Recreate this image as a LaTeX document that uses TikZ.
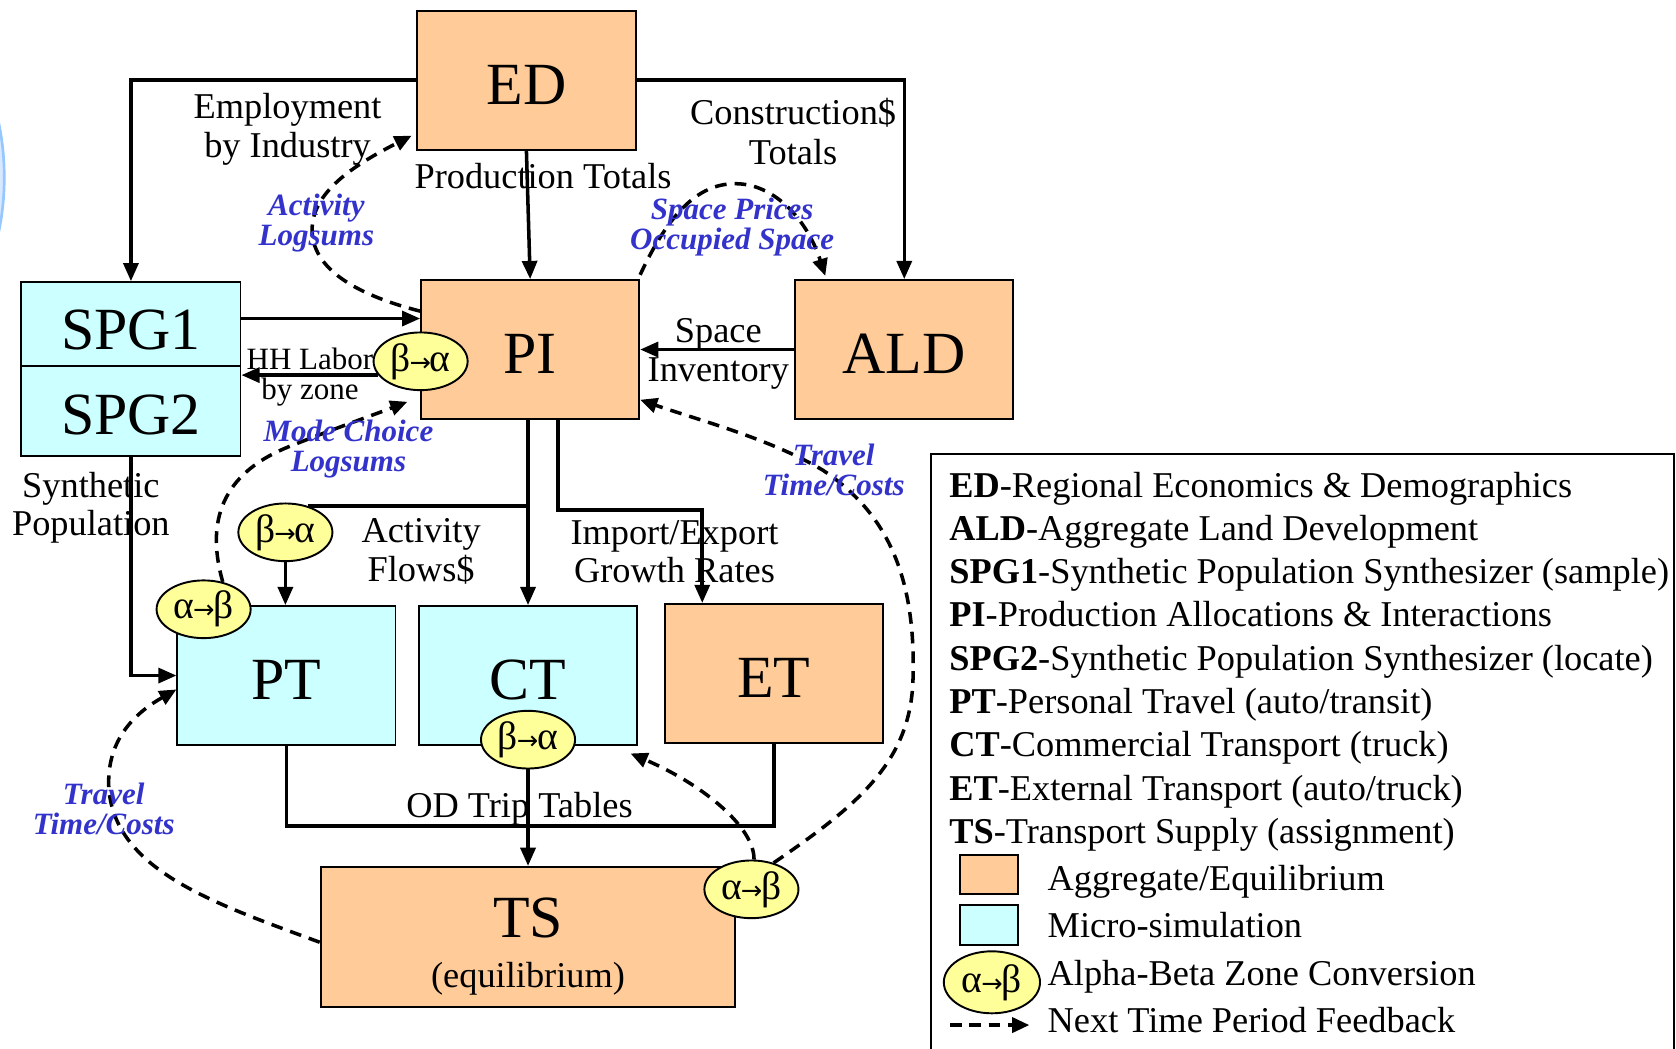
\documentclass[tikz,border=0pt]{standalone}
\usepackage{fontspec}
\setmainfont{Liberation Serif}
\newfontfamily\arrowfont{DejaVu Sans}
\usetikzlibrary{arrows.meta,shapes.geometric}
\definecolor{peach}{RGB}{255,204,153}
\definecolor{micro}{RGB}{204,255,255}
\definecolor{convy}{RGB}{255,255,153}
\definecolor{fbblue}{RGB}{51,51,204}
\definecolor{rimblue}{RGB}{150,200,255}
\definecolor{rimfill}{RGB}{215,232,255}
% compact zone-conversion arrows
\newcommand{\convarrow}{\kern-1pt{\arrowfont\fontsize{24}{24}\selectfont →}\kern-1pt}
\newcommand{\ba}{β\convarrow α}
\newcommand{\ab}{α\convarrow β}

\begin{document}
\begin{tikzpicture}[x=1pt,y=-1pt,
  box/.style={draw, line width=1.8pt, minimum width=204pt, minimum height=130pt,
    inner sep=0pt, text height=45pt, font=\fontsize{56}{60}\selectfont},
  agg/.style={box, fill=peach},
  microbox/.style={box, fill=micro},
  conv/.style={ellipse, draw, line width=1.8pt, fill=convy, minimum width=88pt,
    minimum height=54pt, inner sep=0pt, font=\fontsize{37}{37}\selectfont},
  flow/.style={line width=3.3pt, -{Triangle[length=17pt,width=14pt]}},
  link/.style={line width=3.3pt},
  feedback/.style={line width=3.3pt, dash pattern=on 11pt off 7.5pt,
    -{Triangle[length=16pt,width=14pt]}},
  lbl/.style={font=\fontsize{34}{37}\selectfont, align=center, inner sep=0pt},
  fbl/.style={font=\fontsize{29}{28}\selectfont\bfseries\itshape, text=fbblue,
    align=center, inner sep=0pt},
  legend/.style={font=\fontsize{34}{40}\selectfont, anchor=base west, inner sep=0pt},
  swatch/.style={draw, line width=1.8pt, minimum width=54pt, minimum height=36pt, inner sep=0pt}
]
\useasboundingbox (0,0) rectangle (1568,980.5);

% rim at the left edge and the open legend frame
\begin{scope}
  \clip (0,0) rectangle (1568,980.5);
  \draw[rimblue, fill=rimfill, line width=2.5pt] (-96,166) ellipse [x radius=100pt, y radius=160pt];
  \draw[line width=1.8pt] (871,995) -- (871,425) -- (1566,425) -- (1566,995);
\end{scope}

% model boxes
\node[agg, minimum width=205pt] (ED) at (492.5,75) {ED};
\node[agg] (PI) at (496,327) {PI};
\node[agg] (ALD) at (846,327) {ALD};
\node[microbox, minimum width=205pt, minimum height=78pt, text height=49pt] (SPG1) at (122.5,303) {SPG1};
\node[microbox, minimum width=205pt, minimum height=85pt] (SPG2) at (122.5,384.5) {SPG2};
\node[microbox] (PT) at (268,632) {PT};
\node[microbox] (CT) at (494,632) {CT};
\node[agg] (ET) at (724,630) {ET};
\node[agg, minimum width=388pt, minimum height=131pt] (TS) at (494,876.5) {};
\node[font=\fontsize{56}{60}\selectfont, inner sep=0pt] (TSname) at (494,859) {TS};
\node[lbl] (TSsub) at (494,916) {(equilibrium)};

% zone conversions
\node[conv] (e1) at (393.5,338) {\ba};
\node[conv] (e2) at (267,498) {\ba};
\node[conv] (e3) at (190.5,570) {\ab};
\node[conv] (e4) at (494,692) {\ba};
\node[conv] (e5) at (703,832) {\ab};

% data flows
\draw[flow] (ED.west) -| (SPG1.north);
\draw[flow] (ED.east) -| (ALD.north);
\draw[flow] (ED.south) -- (PI.north);
\coordinate (s1out) at ([yshift=5pt]SPG1.east);
\draw[flow] (s1out) -- (s1out -| PI.west);
\draw[flow] (e1.198) -- (e1.198 -| SPG2.east);
\draw[flow] (ALD.west) -- (PI.east);
\draw[flow] (SPG2.south) |- (PT.west);
\draw[flow] (PI.south -| CT.north) -- (CT.north);
\draw[link] (e2.50) -- (e2.50 -| CT.north);
\draw[flow] (e2.south) -- (e2.south |- PT.north);
\coordinate (ieout) at ([xshift=26pt]PI.south);
\coordinate (iebend) at (657,477);
\draw[flow] (ieout) |- (iebend) -- (iebend |- ET.north);
\coordinate (odbend) at (724,773);
\draw[link] (PT.south) |- (odbend) -- (ET.south);
\draw[flow] (e4.south) -- (e4.south |- TS.north);

% feedback to the next period
\draw[feedback] ([yshift=-30pt]PI.north west) .. controls (330,275) and (292,250) .. (292,215)
  .. controls (292,180) and (330,155) .. ([xshift=-4pt,yshift=14pt]ED.south west);
\draw[feedback] ([yshift=4pt]PI.north east) .. controls (630,190) and (660,170) .. (692,172)
  .. controls (725,174) and (755,205) .. ([xshift=29pt,yshift=3pt]ALD.north west);
\draw[feedback] (e5.50) .. controls (800,755) and (850,715) .. (854,640)
  .. controls (858,540) and (830,480) .. (770,440)
  .. controls (720,410) and (650,392) .. ([yshift=-47pt]PI.east);
\draw[feedback] (e5.85) .. controls (706,775) and (660,735) .. ([xshift=-7pt,yshift=-7pt]CT.south east);
\draw[feedback] ([yshift=-5pt]TS.west) .. controls (200,845) and (110,815) .. (102,740)
  .. controls (98,690) and (130,665) .. ([yshift=-13pt]PT.west);
\draw[feedback] (e3.55) .. controls (190,480) and (215,440) .. (270,418)
  .. controls (310,402) and (350,388) .. ([xshift=-12pt,yshift=17pt]PI.south west);

% flow labels
\node[lbl] (lEmp) at (269,121) {Employment\\by Industry};
\node[lbl] (lCon) at (742,123) {Construction\$\\Totals};
\node[lbl] (lProd) at (508,165) {Production Totals};
\node[lbl, font=\fontsize{29}{28}\selectfont] (lHH) at (290,353) {HH Labor\\by zone};
\node[lbl, font=\fontsize{34}{36}\selectfont] (lSpace) at (672,331) {Space\\Inventory};
\node[lbl, font=\fontsize{34}{35}\selectfont] (lSyn) at (85,475) {Synthetic\\Population};
\node[lbl, font=\fontsize{34}{36}\selectfont] (lAF) at (394,516) {Activity\\Flows\$};
\node[lbl, font=\fontsize{34}{36}\selectfont] (lIE) at (631,516) {Import/Export\\Growth Rates};
\node[lbl] (lOD) at (486,757) {OD Trip Tables};

% feedback labels
\node[fbl] (lAL) at (296,209) {Activity\\Logsums};
\node[fbl] (lSP) at (685,212) {Space Prices\\Occupied Space};
\node[fbl] (lMC) at (326,420) {Mode Choice\\Logsums};
\node[fbl] (lTR) at (780,440) {Travel\\Time/Costs};
\node[fbl] (lTL) at (97,757) {Travel\\Time/Costs};

% legend
\node[legend] (g1) at (888,465) {\textbf{ED}-Regional Economics \& Demographics};
\node[legend] (g2) at (888,505.5) {\textbf{ALD}-Aggregate Land Development};
\node[legend] (g3) at (888,546) {\textbf{SPG1}-Synthetic Population Synthesizer (sample)};
\node[legend] (g4) at (888,586.5) {\textbf{PI}-Production Allocations \& Interactions};
\node[legend] (g5) at (888,627) {\textbf{SPG2}-Synthetic Population Synthesizer (locate)};
\node[legend] (g6) at (888,667.5) {\textbf{PT}-Personal Travel (auto/transit)};
\node[legend] (g7) at (888,708) {\textbf{CT}-Commercial Transport (truck)};
\node[legend] (g8) at (888,748.5) {\textbf{ET}-External Transport (auto/truck)};
\node[legend] (g9) at (888,789) {\textbf{TS}-Transport Supply (assignment)};
\node[swatch, fill=peach] (swA) at (925,818) {};
\node[legend] (gA) at (980,833) {Aggregate/Equilibrium};
\node[swatch, fill=micro, minimum height=37pt] (swM) at (925,865.5) {};
\node[legend] (gM) at (980,877) {Micro-simulation};
\node[conv, minimum width=90pt, minimum height=58pt] (eL) at (928,919) {\ab};
\node[legend] (gC) at (980,922) {Alpha-Beta Zone Conversion};
\coordinate (fbS) at (889,959);
\coordinate (fbE) at (963,959);
\draw[feedback, dash pattern=on 11pt off 7pt] (fbS) -- (fbE);
\node[legend] (gF) at (980,966) {Next Time Period Feedback};
\end{tikzpicture}
\end{document}
